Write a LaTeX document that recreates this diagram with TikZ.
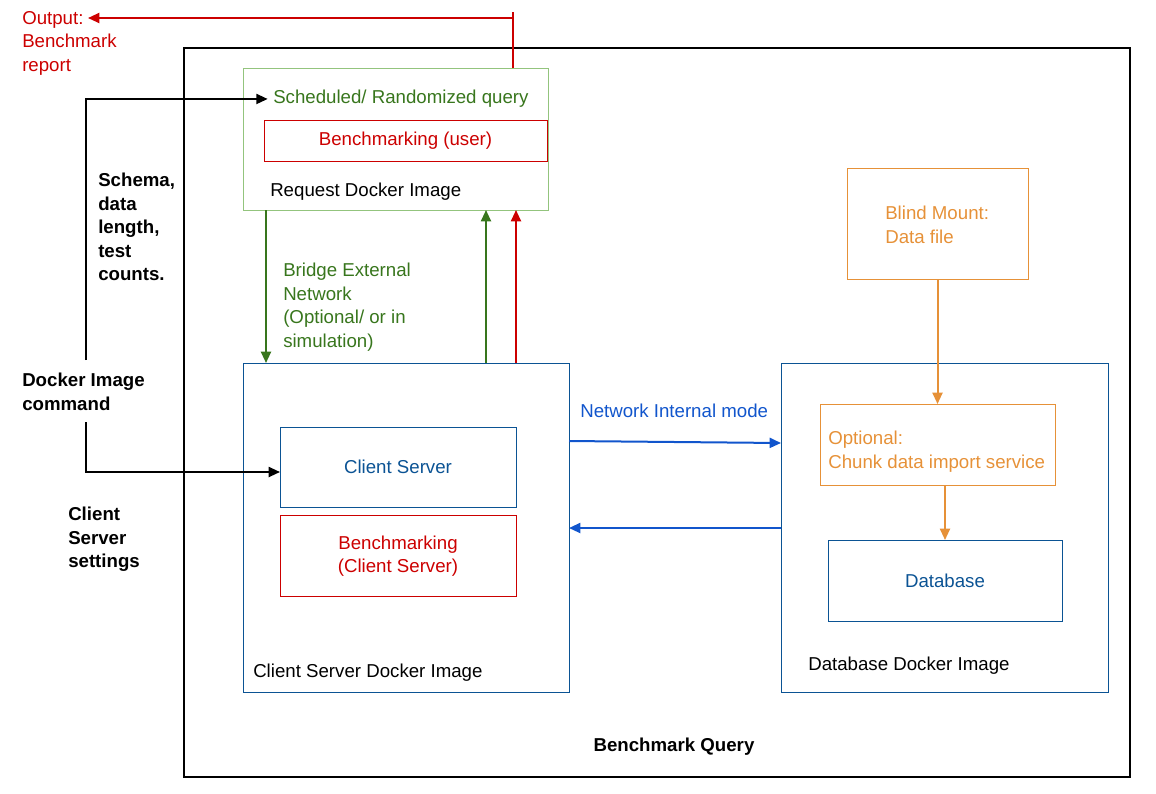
\documentclass[tikz,border=0pt]{standalone}
\usepackage{fontspec}
\setmainfont{Liberation Sans}
\usetikzlibrary{arrows.meta}
\definecolor{dgreen}{HTML}{38761D}
\definecolor{lgreen}{HTML}{93C47D}
\definecolor{dred}{HTML}{CC0000}
\definecolor{dblue}{HTML}{0B5394}
\definecolor{lblue}{HTML}{1155CC}
\definecolor{dorange}{HTML}{E69138}
\tikzset{
	every box/.style={
		rectangle,
		draw,
		inner sep=0pt,
		outer sep=0pt,
		line width=0.75pt },
	box size/.style n args={2}{
		minimum width=#1*0.75pt,
		minimum height=#2*0.75pt },
	every label/.style={
		inner sep=0pt,
		anchor=north west,
		align=left },
	link/.style={
		->,
		line width=1.5pt },
}

\begin{document}
\begin{tikzpicture}[x=0.75pt, y=-0.75pt, >={Triangle[length=8.5pt,width=7.5pt]},
	font=\fontsize{14}{17.6}\selectfont]

		\useasboundingbox (0,0) rectangle (1156,793);

		% outer frame
		\node [every box, box size={946}{729}, line width=1.5pt] (frame) at (657,412.5) {};
		\node [font=\fontsize{14}{17.6}\selectfont\bfseries] (query) at (674,747) {Benchmark Query};

		% docker images
		\foreach \n/\x/\y/\w/\h/\c in {request/395.5/139/305/142/lgreen,
			clientdock/406/527.5/326/329/dblue,
			dbdock/944.5/527.5/327/329/dblue}
		\node [every box, box size={\w}{\h}, draw=\c] (\n) at (\x,\y) {};

		% inner boxes
		\foreach \n/\x/\y/\w/\h/\c/\t in {userbench/405.5/141/283/41/dred/{Benchmarking (user)},
			clientsrv/398/467/236/80/dblue/{Client Server},
			clientbench/398/556/236/81/dred/{Benchmarking\\(Client Server)},
			mount/937.5/223.5/181/111/dorange/{},
			chunk/937.5/444.5/235/81/dorange/{},
			database/945/580.5/234/81/dblue/{Database}}
		\node [every box, box size={\w}{\h}, draw=\c, text=\c, align=center] (\n) at (\x,\y) {\t};

		% texts
		\node [every label, text=dred] (output) at (22,11) {Output:\\Benchmark\\report};
		\node [every label, text=dgreen] (sched) at (273,90) {Scheduled/ Randomized query};
		\node [every label] (reqname) at (270,183) {Request Docker Image};
		\node [every label, font=\fontsize{14}{17.6}\selectfont\bfseries] (schema) at (98,173) {Schema,\\data\\length,\\test\\counts.};
		\node [every label, text=dgreen] (bridge) at (283,263) {Bridge External\\Network\\(Optional/ or in\\simulation)};
		\node [every label, font=\fontsize{14}{17.6}\selectfont\bfseries] (cmd) at (22,373) {Docker Image\\command};
		\node [every label, font=\fontsize{14}{17.6}\selectfont\bfseries] (settings) at (68,507) {Client\\Server\\settings};
		\node [every label, text=lblue] (netmode) at (580,404) {Network Internal mode};
		\node [every label, text=dorange] (mounttext) at (885,206) {Blind Mount:\\Data file};
		\node [every label, text=dorange] (chunktext) at (828,431) {Optional:\\Chunk data import service};
		\node [every label] (clientname) at (253,664) {Client Server Docker Image};
		\node [every label] (dbname) at (808,657) {Database Docker Image};

		% free ends
		\coordinate (outtick) at (513,12);
		\coordinate (outtip) at (88,18);
		\coordinate (cmdtop) at (86,360);
		\coordinate (cmdbot) at (86,422);

		% output report
		\draw [dred, line width=1.5pt] (request.north -| outtick) -- (outtick);
		\draw [link, dred] (outtick |- outtip) -- (outtip);

		% docker command
		\draw [link] (cmdtop) |- ([xshift=-4pt]sched.west);
		\draw [link] (cmdbot) |- ([yshift=-3.75pt]clientsrv.west);

		% bridge network
		\draw [link, dgreen] (request.south -| 266,0) -- (clientdock.north -| 266,0);
		\draw [link, dgreen] (clientdock.north -| 486,0) -- (request.south -| 486,0);
		\draw [link, dred] (clientdock.north -| 516,0) -- (request.south -| 516,0);

		% internal network
		\draw [link, lblue] (clientdock.east |- 0,441) -- (dbdock.west |- 0,443);
		\draw [link, lblue] (dbdock.west |- 0,528) -- (clientdock.east |- 0,528);

		% data import
		\draw [link, dorange] (mount) -- (chunk);
		\draw [link, dorange] (chunk.south -| database.north) -- (database.north);
	\end{tikzpicture}
\end{document}
